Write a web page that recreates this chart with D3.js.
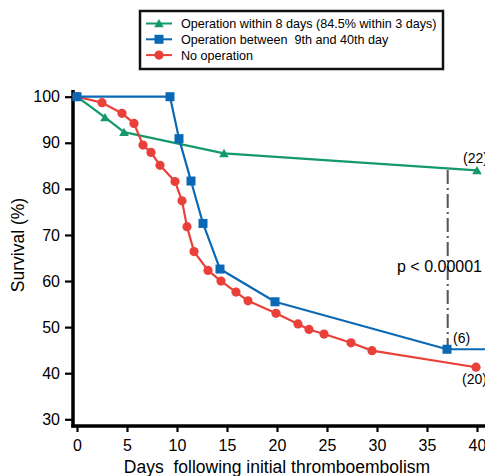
<!DOCTYPE html>
<html>
<head>
<meta charset="utf-8">
<script src="https://cdn.jsdelivr.net/npm/d3@7"></script>
<style>
  html, body { margin: 0; padding: 0; background: #fff; }
  svg { display: block; font-family: "Liberation Sans", Arial, sans-serif; }
  svg text { white-space: pre; }
</style>
</head>
<body>
<svg id="chart" width="485" height="476"></svg>
<script>
// survival curves
const earlyDays = [0, 2.8, 4.7, 14.7, 40];
const earlySurvival = [100, 95.5, 92.3, 87.7, 84];

const lateDays = [0, 9.3, 10.2, 11.4, 12.6, 14.3, 19.8, 37];
const lateSurvival = [100, 100, 90.9, 81.7, 72.5, 62.6, 55.5, 45.2];
const lateTail = [41, 45.2]; // line continues past last event, no marker

const noneDays = [0, 2.5, 4.5, 5.7, 6.6, 7.4, 8.3, 9.8, 10.5, 11.0, 11.7, 13.1, 14.4, 15.9, 17.1, 19.9, 22.1, 23.2, 24.7, 27.4, 29.5, 39.9];
const noneSurvival = [100, 98.7, 96.4, 94.2, 89.5, 87.9, 85.1, 81.6, 77.4, 71.8, 66.4, 62.3, 60.0, 57.6, 55.7, 53.0, 50.7, 49.5, 48.5, 46.6, 44.9, 41.3];

const xTicks = [0, 5, 10, 15, 20, 25, 30, 35, 40];
const yTicks = [30, 40, 50, 60, 70, 80, 90, 100];

const legendLabels = ['Operation within 8 days (84.5% within 3 days)', 'Operation between  9th and 40th day', 'No operation'];
const endLabels = ['(22)', '(6)', '(20)'];
const pDay = 37.07;
const pRange = [84.1, 45.2];

const colors = { early: '#13996a', late: '#0a68b4', none: '#e9403a' };

const svg = d3.select('#chart');
const x = d3.scaleLinear().domain([0, 40]).range([77, 477]);
const y = d3.scaleLinear().domain([30, 100]).range([419.3, 96.7]);

// axes
const yAxis = svg.append('g')
  .attr('transform', 'translate(73,0)')
  .call(d3.axisLeft(y).tickValues(yTicks).tickSize(8).tickPadding(5));
const xAxis = svg.append('g')
  .attr('transform', 'translate(0,426)')
  .call(d3.axisBottom(x).tickValues(xTicks).tickSize(6).tickPadding(5));
[yAxis, xAxis].forEach(a => {
  a.select('.domain').remove();
  a.selectAll('.tick line').attr('stroke', '#000').attr('stroke-width', 2.2);
  a.selectAll('.tick text').attr('fill', '#000').style('font-size', '16px');
});
xAxis.selectAll('.tick text').attr('dy', '0.9em');
svg.append('line').attr('x1', 73).attr('x2', 73).attr('y1', 90).attr('y2', 427.5)
  .attr('stroke', '#000').attr('stroke-width', 3.5);
svg.append('line').attr('x1', 71.3).attr('x2', 485).attr('y1', 426).attr('y2', 426)
  .attr('stroke', '#000').attr('stroke-width', 3.5);

svg.append('text')
  .attr('transform', 'translate(24,245) rotate(-90)')
  .attr('text-anchor', 'middle')
  .style('font-size', '17.5px')
  .text('Survival (%)');
svg.append('text')
  .attr('x', 277).attr('y', 473)
  .attr('text-anchor', 'middle')
  .style('font-size', '17.5px')
  .text('Days  following initial thromboembolism');

// p-value marker
svg.append('line')
  .attr('x1', x(pDay)).attr('x2', x(pDay))
  .attr('y1', y(pRange[0])).attr('y2', y(pRange[1]))
  .attr('stroke', '#555').attr('stroke-width', 2)
  .attr('stroke-dasharray', '14,4,2,4');
svg.append('text')
  .attr('x', 397).attr('y', 272)
  .style('font-size', '16px')
  .text('p < 0.00001');

const line = d3.line().x(d => x(d[0])).y(d => y(d[1]));
const zip = (a, b) => a.map((d, i) => [d, b[i]]);

function marker(g, shape, cx, cy, color) {
  if (shape === 'circle') {
    g.append('circle').attr('cx', cx).attr('cy', cy).attr('r', 4.6).attr('fill', color);
  } else if (shape === 'square') {
    g.append('rect').attr('x', cx - 4.5).attr('y', cy - 4.5).attr('width', 9).attr('height', 9).attr('fill', color);
  } else {
    g.append('path').attr('d', d3.symbol(d3.symbolTriangle, 40)()).attr('transform', `translate(${cx},${cy + 1})`).attr('fill', color);
  }
}

const series = [
  { pts: zip(earlyDays, earlySurvival), extra: [], color: colors.early, shape: 'triangle' },
  { pts: zip(lateDays, lateSurvival), extra: [lateTail], color: colors.late, shape: 'square' },
  { pts: zip(noneDays, noneSurvival), extra: [], color: colors.none, shape: 'circle' }
];

// draw in back-to-front order: early, none, late
[series[0], series[2], series[1]].forEach(s => {
  const g = svg.append('g');
  g.append('path')
    .attr('d', line(s.pts.concat(s.extra)))
    .attr('fill', 'none')
    .attr('stroke', s.color)
    .attr('stroke-width', 2.2)
    .attr('stroke-linejoin', 'round');
  s.pts.forEach(p => marker(g, s.shape, x(p[0]), y(p[1]), s.color));
});

// numbers at risk (clipped at the right edge, as in the figure)
svg.append('text').attr('x', 463).attr('y', 163).style('font-size', '14px').text(endLabels[0]);
svg.append('text').attr('x', 453).attr('y', 343).style('font-size', '14px').text(endLabels[1]);
svg.append('text').attr('x', 462).attr('y', 384).style('font-size', '14px').text(endLabels[2]);

// legend
const legend = svg.append('g');
legend.append('rect')
  .attr('x', 140).attr('y', 11).attr('width', 303).attr('height', 58)
  .attr('fill', '#fff').attr('stroke', '#111').attr('stroke-width', 2.5);
series.forEach((s, i) => {
  const ly = 23.5 + i * 15.8;
  legend.append('line').attr('x1', 146).attr('x2', 172).attr('y1', ly).attr('y2', ly)
    .attr('stroke', s.color).attr('stroke-width', 2);
  marker(legend, s.shape, 159, ly, s.color);
  legend.append('text')
    .attr('x', 181).attr('y', ly).attr('dy', '0.35em')
    .style('font-size', '12.6px')
    .text(legendLabels[i]);
});
</script>
</body>
</html>
